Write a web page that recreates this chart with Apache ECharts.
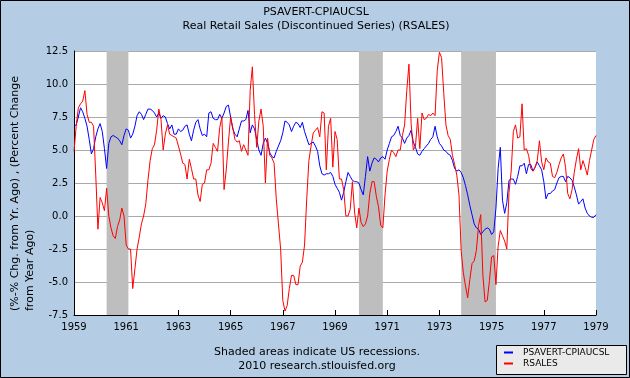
<!DOCTYPE html>
<html><head><meta charset="utf-8">
<script src="https://cdn.jsdelivr.net/npm/echarts@6.0.0/dist/echarts.min.js"></script>
<style>html,body{margin:0;padding:0;background:#B4CDE4}#c{width:630px;height:378px}</style>
</head><body><div id="c"></div><script>
const startYear = 1959;
const endYear = 1979;
const titleLines = ['PSAVERT-CPIAUCSL', 'Real Retail Sales (Discontinued Series) (RSALES)'];
const yAxisTitle = '(%-% Chg. from Yr. Ago) , (Percent Change\nfrom Year Ago)';
const noteLines = ['Shaded areas indicate US recessions.', '2010 research.stlouisfed.org'];
const seriesNames = ['PSAVERT-CPIAUCSL', 'RSALES'];
const seriesColors = ['#0000FF', '#FF0000'];
const yTicks = [-7.5, -5.0, -2.5, 0.0, 2.5, 5.0, 7.5, 10.0, 12.5];
const recessions = [['1960-04', '1961-02'], ['1969-12', '1970-11'], ['1973-11', '1975-03']];

// monthly values, Jan 1959 .. Jan 1979
const psavertCpi = [
 6.8, 6.9, 7.5, 8.2, 7.9, 7.4, 6.8, 5.8, 4.7, 5.1, 6.0, 6.6,
 7.0, 6.4, 5.1, 3.6, 5.5, 6.0, 6.1, 6.0, 5.9, 5.7, 5.4, 6.1,
 6.6, 6.5, 5.9, 6.2, 6.8, 7.6, 7.9, 7.7, 7.3, 7.7, 8.1, 8.1,
 8.0, 7.8, 7.5, 7.8, 7.4, 7.6, 7.5, 7.0, 6.6, 6.9, 6.2, 6.2,
 6.6, 6.4, 6.5, 6.8, 6.9, 6.2, 5.7, 6.5, 7.1, 7.3, 6.6, 6.1,
 6.2, 6.0, 7.8, 7.9, 7.4, 7.3, 7.3, 7.7, 7.4, 7.8, 8.3, 8.4,
 7.5, 6.6, 6.2, 6.0, 6.6, 7.2, 7.2, 7.3, 8.0, 6.3, 6.9, 6.6,
 5.8, 5.0, 4.6, 5.5, 5.9, 5.5, 4.8, 4.5, 4.4, 4.9, 5.3, 5.7,
 6.3, 7.2, 7.1, 6.9, 6.4, 6.8, 7.1, 7.0, 6.7, 7.1, 6.4, 5.9,
 5.4, 5.5, 5.6, 5.3, 4.9, 3.8, 3.2, 3.1, 3.2, 3.2, 3.3, 3.0,
 2.4, 2.1, 1.8, 1.2, 1.8, 2.6, 3.3, 3.0, 2.7, 2.6, 2.6, 2.5,
 2.0, 1.6, 3.0, 4.5, 3.4, 4.0, 4.4, 4.3, 4.1, 4.4, 4.5, 4.3,
 5.0, 5.5, 6.0, 6.1, 6.4, 6.8, 6.1, 5.9, 5.5, 5.9, 6.1, 6.5,
 5.6, 5.2, 4.7, 4.6, 4.9, 5.1, 5.3, 5.5, 5.8, 6.0, 6.8, 6.0,
 5.5, 5.3, 5.0, 4.9, 4.7, 4.6, 4.2, 3.6, 3.4, 3.5, 3.3, 2.9,
 2.3, 1.6, 0.8, 0.1, -0.6, -0.9, -1.0, -1.4, -1.2, -1.0, -0.9, -1.0,
 -1.4, -1.2, 0.6, 3.6, 5.2, 1.2, 0.2, 1.0, 2.7, 2.8, 2.8, 2.4,
 3.0, 3.8, 3.8, 4.0, 3.2, 3.9, 3.9, 3.4, 3.7, 4.1, 3.8, 3.5,
 2.6, 1.3, 1.7, 1.7, 1.9, 2.0, 2.5, 2.9, 3.0, 3.0, 2.6, 3.0,
 2.9, 2.7, 2.2, 1.6, 0.9, 1.1, 1.3, 0.6, 0.2, 0.0, -0.1, -0.1,
 0.1
];
const rsales = [
 4.9, 6.8, 8.2, 8.5, 8.7, 9.5, 7.7, 7.1, 7.1, 6.8, 3.1, -1.0,
 1.4, 1.0, 0.4, 2.1, 0.0, -0.9, -1.5, -1.7, -0.8, -0.3, 0.6, 0.0,
 -2.2, -2.5, -2.5, -5.5, -4.0, -2.5, -1.6, -0.6, 0.0, 0.9, 2.7, 4.2,
 5.1, 5.4, 6.5, 8.1, 7.3, 5.0, 6.2, 6.9, 6.2, 6.1, 6.0, 5.9,
 5.3, 4.7, 4.0, 3.9, 2.8, 4.3, 3.6, 2.8, 2.8, 1.6, 1.1, 2.4,
 2.5, 3.5, 3.5, 4.0, 5.5, 5.2, 4.9, 6.7, 7.5, 2.0, 3.5, 5.6,
 7.5, 6.7, 5.8, 5.6, 5.7, 4.9, 5.4, 5.0, 4.6, 9.5, 11.3, 7.7,
 5.2, 7.2, 8.1, 6.8, 2.5, 5.9, 4.6, 4.4, 4.0, 1.3, -0.6, -2.5,
 -6.4, -7.2, -6.8, -5.5, -4.5, -4.5, -5.2, -5.2, -3.8, -3.5, -2.2, 1.3,
 4.2, 5.3, 6.3, 6.5, 6.7, 6.0, 7.9, 7.8, 3.5, 6.8, 7.4, 3.7,
 6.4, 5.8, 2.8, 2.8, 2.0, 0.0, 0.0, 0.5, 2.6, 0.3, -0.9, 0.6,
 -0.5, -0.8, -0.6, 0.0, 1.7, 2.6, 2.6, 1.5, 0.7, -0.7, -0.9, 1.6,
 3.4, 4.3, 5.0, 4.8, 4.5, 5.0, 5.0, 6.1, 6.9, 9.5, 11.5, 7.0,
 5.0, 5.3, 7.4, 5.1, 7.8, 7.3, 7.4, 7.7, 7.6, 7.8, 7.6, 11.0,
 12.4, 12.0, 9.3, 6.9, 6.1, 5.8, 4.6, 3.9, 3.1, 1.6, -2.6, -4.3,
 -5.3, -6.2, -4.8, -3.6, -3.4, -2.6, -0.7, 0.1, -4.5, -6.5, -6.4, -4.9,
 -3.1, -3.0, -5.2, -2.3, -1.1, -1.5, -1.9, -2.5, 1.8, 3.4, 6.4, 6.9,
 5.9, 6.0, 8.5, 5.0, 5.1, 4.6, 3.6, 3.4, 3.7, 4.2, 5.7, 4.1,
 3.5, 4.4, 4.1, 4.0, 3.0, 2.9, 3.3, 3.9, 4.4, 4.7, 3.7, 1.7,
 1.3, 2.0, 3.3, 4.3, 5.1, 3.5, 4.2, 3.7, 3.1, 4.2, 5.0, 5.8,
 6.1
];

function monthIndex(s) { const p = s.split('-'); return (+p[0] - startYear) * 12 + (+p[1] - 1); }
const toPairs = arr => arr.map((v, i) => [i, v]);
const FONT = '"DejaVu Sans", Verdana, sans-serif';

const chart = echarts.init(document.getElementById('c'), null, {renderer: 'canvas'});
chart.setOption({
  animation: false,
  backgroundColor: '#B4CDE4',
  grid: {left: 74, right: 34, top: 51, bottom: 63, show: true, backgroundColor: '#FFFFFF', borderWidth: 0},
  xAxis: {
    type: 'value', min: 0, max: (endYear - startYear) * 12, interval: 24,
    axisLine: {show: true, onZero: false, lineStyle: {color: '#000', width: 1}},
    axisTick: {show: true, inside: true, length: 5, lineStyle: {color: '#000'}},
    splitLine: {show: false},
    axisLabel: {margin: 7, color: '#000', fontSize: 10, fontFamily: FONT,
      formatter: v => String(startYear + v / 12)}
  },
  yAxis: {
    type: 'value', min: yTicks[0], max: yTicks[yTicks.length - 1], interval: 2.5,
    axisLine: {show: true, onZero: false, lineStyle: {color: '#000', width: 1}},
    axisTick: {show: false},
    splitLine: {show: true, lineStyle: {color: '#AAAAAA', width: 1}},
    axisLabel: {margin: 6, color: '#000', fontSize: 10, fontFamily: FONT,
      formatter: v => v.toFixed(1)}
  },
  series: [
    {
      name: seriesNames[0], type: 'line', data: toPairs(psavertCpi), showSymbol: false,
      lineStyle: {color: seriesColors[0], width: 1}, itemStyle: {color: seriesColors[0]},
      markArea: {silent: true, itemStyle: {color: '#BEBEBE', opacity: 1},
        data: recessions.map(r => [{xAxis: monthIndex(r[0])}, {xAxis: monthIndex(r[1])}])}
    },
    {
      name: seriesNames[1], type: 'line', data: toPairs(rsales), showSymbol: false,
      lineStyle: {color: seriesColors[1], width: 1}, itemStyle: {color: seriesColors[1]}
    }
  ],
  graphic: [
    {type: 'rect', shape: {x: 0.5, y: 0.5, width: 629, height: 377}, style: {fill: 'none', stroke: '#000', lineWidth: 1}, z: 100},
    {type: 'text', x: 316, y: 12, style: {text: titleLines[0], font: '11px ' + FONT, fill: '#000', textAlign: 'center', textVerticalAlign: 'middle'}},
    {type: 'text', x: 316, y: 26, style: {text: titleLines[1], font: '11px ' + FONT, fill: '#000', textAlign: 'center', textVerticalAlign: 'middle'}},
    {type: 'text', x: 8, y: 311, rotation: Math.PI / 2, style: {text: yAxisTitle, font: '11px ' + FONT, fill: '#000', textAlign: 'left', textVerticalAlign: 'top', lineHeight: 15}},
    {type: 'text', x: 317, y: 352, style: {text: noteLines[0], font: '11px ' + FONT, fill: '#000', textAlign: 'center', textVerticalAlign: 'middle'}},
    {type: 'text', x: 317, y: 366, style: {text: noteLines[1], font: '11px ' + FONT, fill: '#000', textAlign: 'center', textVerticalAlign: 'middle'}},
    {type: 'rect', shape: {x: 496.5, y: 345.5, width: 130, height: 29}, style: {fill: '#EAEAEA', stroke: '#000', lineWidth: 1}},
    {type: 'line', shape: {x1: 504, y1: 352.5, x2: 513, y2: 352.5}, style: {stroke: seriesColors[0], lineWidth: 2}},
    {type: 'line', shape: {x1: 504, y1: 363.5, x2: 513, y2: 363.5}, style: {stroke: seriesColors[1], lineWidth: 2}},
    {type: 'text', x: 523, y: 353, style: {text: seriesNames[0], font: '9px ' + FONT, fill: '#000', textAlign: 'left', textVerticalAlign: 'middle'}},
    {type: 'text', x: 523, y: 364, style: {text: seriesNames[1], font: '9px ' + FONT, fill: '#000', textAlign: 'left', textVerticalAlign: 'middle'}}
  ]
});
</script></body></html>
